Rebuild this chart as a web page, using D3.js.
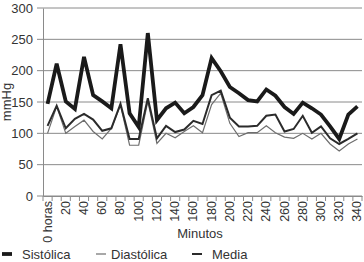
<!DOCTYPE html>
<html>
<head>
<meta charset="utf-8">
<script src="https://cdn.jsdelivr.net/npm/d3@7"></script>
<style>
  body { margin: 0; background: #fff; }
  svg { font-family: "Liberation Sans", Arial, sans-serif; }
</style>
</head>
<body>
<div id="chart"></div>
<script>

// minutes, one reading every 10 min
var minutes = d3.range(0, 350, 10)

var sistolica = [147, 211, 151, 139, 222, 161, 151, 140, 242, 132, 110, 260, 121, 140, 149, 132,
	142, 161, 220, 199, 174, 164, 153, 151, 170, 160, 142, 131, 149, 140, 130, 111, 91, 130, 143]

var diastolica = [100, 143, 100, 111, 121, 103, 91, 108, 145, 81, 81, 151, 84, 100, 93, 103,
	112, 101, 146, 164, 116, 95, 101, 101, 112, 101, 94, 92, 100, 91, 100, 83, 72, 83, 91]

var media = [112, 144, 108, 123, 131, 122, 104, 108, 147, 91, 91, 156, 92, 112, 102, 106,
	120, 115, 161, 168, 125, 111, 111, 112, 128, 130, 103, 107, 128, 101, 111, 92, 83, 91, 100]

var yTicks = [0, 50, 100, 150, 200, 250, 300]

var margin = {top: 8, right: 2, bottom: 66, left: 43}
var W = 364, H = 262
var width = W - margin.left - margin.right
var height = H - margin.top - margin.bottom

var svg = d3.select("#chart")
	.append("svg")
	.attr("width", W)
	.attr("height", H)

var g = svg.append("g")
	.attr("transform", "translate(" + margin.left + "," + margin.top + ")")

var x = d3.scaleBand().domain(minutes).range([0, width])
var y = d3.scaleLinear().domain([0, 300]).range([height, 0])

/* grid lines */
g.selectAll(".grid")
	.data(yTicks)
	.enter()
	.append("line")
	.attr("x1", -6)
	.attr("x2", width)
	.attr("y1", function(d){ return y(d) })
	.attr("y2", function(d){ return y(d) })
	.attr("stroke", "#8a8a8a")
	.attr("stroke-width", 1)

/* y axis */
var yAxis = g.append("g")
	.call(d3.axisLeft(y).tickValues(yTicks).tickSize(0).tickPadding(10))
yAxis.select(".domain").attr("stroke", "#8a8a8a")
yAxis.selectAll("text")
	.attr("font-size", 13)
	.attr("fill", "#333")

/* x axis, ticks at band boundaries */
var xAxis = g.append("g")
	.attr("transform", "translate(0," + height + ")")
	.call(d3.axisBottom(x).tickSize(0).tickFormat(""))
xAxis.select(".domain").attr("stroke", "#8a8a8a")

g.selectAll(".xtick")
	.data(minutes.concat([350]))
	.enter()
	.append("line")
	.attr("x1", function(d, i){ return i * x.step() })
	.attr("x2", function(d, i){ return i * x.step() })
	.attr("y1", height)
	.attr("y2", height + 5)
	.attr("stroke", "#8a8a8a")

g.selectAll(".xlabel")
	.data(minutes.filter(function(d){ return d % 20 == 0 }))
	.enter()
	.append("text")
	.attr("transform", function(d){
		return "translate(" + (x(d) + x.bandwidth() / 2 + 4) + "," + (height + 5) + ") rotate(-90)"
	})
	.attr("text-anchor", "end")
	.attr("font-size", 12.5)
	.attr("fill", "#333")
	.text(function(d){ return d == 0 ? "0 horas" : d })

/* axis titles */
svg.append("text")
	.attr("transform", "translate(11," + (margin.top + height / 2) + ") rotate(-90)")
	.attr("text-anchor", "middle")
	.attr("font-size", 13)
	.attr("fill", "#333")
	.text("mmHg")

svg.append("text")
	.attr("x", 200)
	.attr("y", 238)
	.attr("text-anchor", "middle")
	.attr("font-size", 13)
	.attr("fill", "#333")
	.text("Minutos")

/* series lines */
var series = [
	{name: "Sistólica", values: sistolica, color: "#1a1a1a", w: 3.8},
	{name: "Diastólica", values: diastolica, color: "#6e6e6e", w: 1.2},
	{name: "Media", values: media, color: "#2b2b2b", w: 2}
]

var line = d3.line()
	.x(function(d, i){ return x(minutes[i]) + x.bandwidth() / 2 })
	.y(function(d){ return y(d) })

g.selectAll(".series")
	.data(series)
	.enter()
	.append("path")
	.attr("d", function(s){ return line(s.values) })
	.attr("fill", "none")
	.attr("stroke", function(s){ return s.color })
	.attr("stroke-width", function(s){ return s.w })
	.attr("stroke-linejoin", "miter")

/* legend */
var legendX = [2, 96, 192]
var legendTextX = [22, 111, 212]
var legend = svg.selectAll(".legend")
	.data(series)
	.enter()
	.append("g")
	.attr("transform", "translate(0,254)")

legend.append("line")
	.attr("x1", function(s, i){ return legendX[i] })
	.attr("x2", function(s, i){ return legendX[i] + 10 })
	.attr("y1", 0)
	.attr("y2", 0)
	.attr("stroke", function(s){ return s.color })
	.attr("stroke-width", function(s){ return s.w })

legend.append("text")
	.attr("x", function(s, i){ return legendTextX[i] })
	.attr("y", 5)
	.attr("font-size", 13)
	.attr("fill", "#333")
	.text(function(s){ return s.name })

</script>
</body>
</html>
